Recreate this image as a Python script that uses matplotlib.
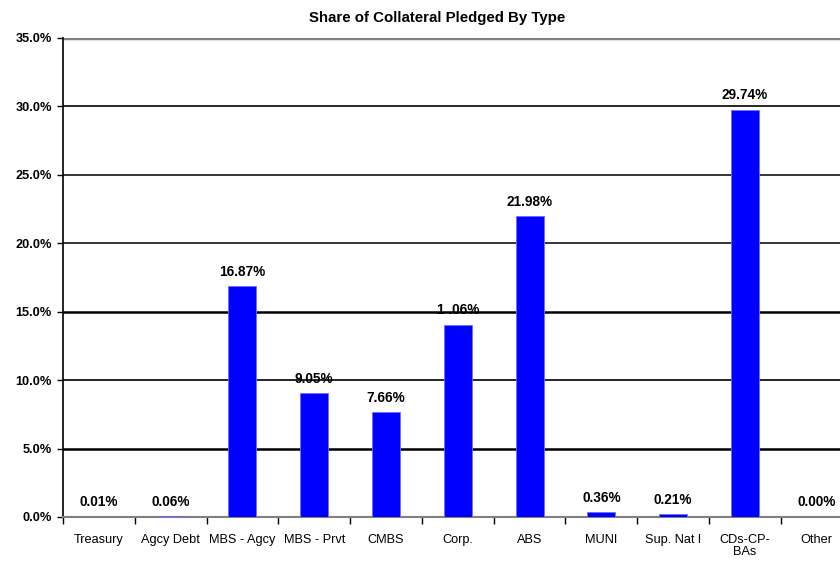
import matplotlib.pyplot as plt
import numpy as np

plt.rcParams['font.family'] = ['Liberation Sans', 'DejaVu Sans']

categories = ['Treasury', 'Agcy Debt', 'MBS - Agcy', 'MBS - Prvt', 'CMBS', 'Corp.',
              'ABS', 'MUNI', 'Sup. Nat l', 'CDs-CP-\nBAs', 'Other']
shares = [0.01, 0.06, 16.87, 9.05, 7.66, 14.06, 21.98, 0.36, 0.21, 29.74, 0.00]
bar_labels = ['0.01%', '0.06%', '16.87%', '9.05%', '7.66%', '1 .06%', '21.98%',
              '0.36%', '0.21%', '29.74%', '0.00%']
y_ticks = [0, 5, 10, 15, 20, 25, 30, 35]

fig = plt.figure(figsize=(8.4, 5.61), dpi=100)
ax = fig.add_axes([0.075, 0.0785, 0.94, 0.854])

x = np.arange(len(categories))
ax.bar(x, shares, width=0.39, color='#0000FF', edgecolor='#6f6fff', linewidth=0.6, zorder=3)

for xi, v, lab in zip(x, shares, bar_labels):
    ax.text(xi, v + 0.55, lab, ha='center', va='bottom', fontsize=9.8,
            fontweight='bold', zorder=1)

# grid lines look heavier at 5% and 15% in the original
grid_widths = {5: 1.8, 10: 1.2, 15: 1.8, 20: 1.1, 25: 1.1, 30: 1.2}
for t in y_ticks[1:-1]:
    ax.axhline(t, color='black', linewidth=grid_widths[t], zorder=2)
ax.axhline(35, color='#808080', linewidth=2.5, zorder=2)

ax.set_xlim(-0.5, len(categories) - 0.5)
ax.set_ylim(0, 35)
ax.set_yticks(y_ticks)
ax.set_yticklabels([f'{t:.1f}%' for t in y_ticks], fontsize=9.2, fontweight='bold')

ax.set_xticks(x)
ax.set_xticklabels(categories, fontsize=9.2, linespacing=1.05)
ax.tick_params(axis='x', length=0, pad=12)
ax.set_xticks(np.arange(len(categories) + 1) - 0.5, minor=True)
ax.tick_params(axis='x', which='minor', length=5, width=1, direction='out')
ax.tick_params(axis='y', length=4, width=1, direction='out', pad=4)

for s in ['top', 'right']:
    ax.spines[s].set_visible(False)
ax.spines['left'].set_color('black')
ax.spines['left'].set_linewidth(1.2)
ax.spines['bottom'].set_color('#808080')
ax.spines['bottom'].set_linewidth(1.5)

fig.suptitle('Share of Collateral Pledged By Type', x=0.52, y=0.98,
             fontsize=10.8, fontweight='bold')

fig.savefig('out.png', dpi=100)
